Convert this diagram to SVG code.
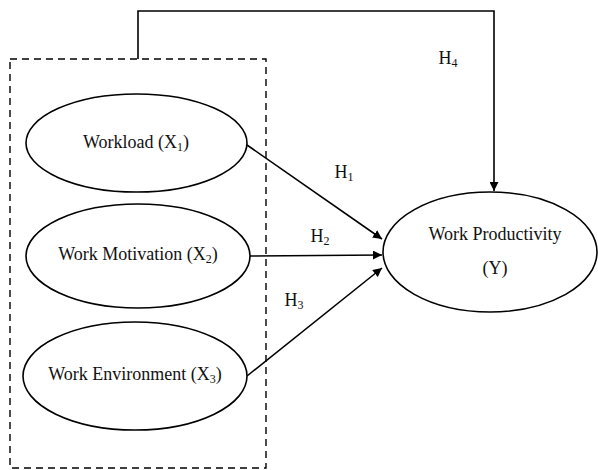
<svg xmlns="http://www.w3.org/2000/svg" width="598" height="470" viewBox="0 0 598 470">
<style>
.n{fill:#fff;stroke:#000;stroke-width:1.6}
.t{font-family:"Liberation Serif","Times New Roman",serif;font-size:18px;fill:#111;text-anchor:middle}
.s{font-size:12px}
.c{fill:none;stroke:#000;stroke-width:1.6}
</style>
<defs>
<marker id="a" viewBox="0 0 10 10" refX="10" refY="5" markerWidth="9" markerHeight="9" markerUnits="userSpaceOnUse" orient="auto">
<path d="M0,0 L10,5 L0,10 z" fill="#000"/>
</marker>
</defs>
<rect x="10" y="59" width="256" height="409" fill="none" stroke="#000" stroke-width="1.4" stroke-dasharray="7,5"/>
<g id="connectors">
<polyline class="c" points="138,59 138,11 494,11 494,191" marker-end="url(#a)"/>
<line class="c" x1="247" y1="145" x2="382" y2="239" marker-end="url(#a)"/>
<line class="c" x1="250" y1="256" x2="382" y2="255" marker-end="url(#a)"/>
<line class="c" x1="247" y1="376" x2="382" y2="268" marker-end="url(#a)"/>
</g>
<g id="labels">
<text class="t" x="344" y="178">H<tspan class="s" dy="3">1</tspan></text>
<text class="t" x="320" y="242">H<tspan class="s" dy="3">2</tspan></text>
<text class="t" x="294" y="306">H<tspan class="s" dy="3">3</tspan></text>
<text class="t" x="448" y="64">H<tspan class="s" dy="3">4</tspan></text>
</g>
<g id="x1">
<ellipse class="n" cx="136.5" cy="143" rx="110.5" ry="49"/>
<text class="t" x="136" y="148">Workload (X<tspan class="s" dy="3">1</tspan><tspan dy="-3">)</tspan></text>
</g>
<g id="x2">
<ellipse class="n" cx="138" cy="256" rx="112" ry="52"/>
<text class="t" x="138" y="260">Work Motivation (X<tspan class="s" dy="3">2</tspan><tspan dy="-3">)</tspan></text>
</g>
<g id="x3">
<ellipse class="n" cx="135" cy="376" rx="112" ry="54"/>
<text class="t" x="135" y="380">Work Environment (X<tspan class="s" dy="3">3</tspan><tspan dy="-3">)</tspan></text>
</g>
<g id="y">
<ellipse class="n" cx="490" cy="252" rx="107" ry="60"/>
<text class="t" x="495" y="240">Work Productivity</text>
<text class="t" x="495" y="274">(Y)</text>
</g>
</svg>
